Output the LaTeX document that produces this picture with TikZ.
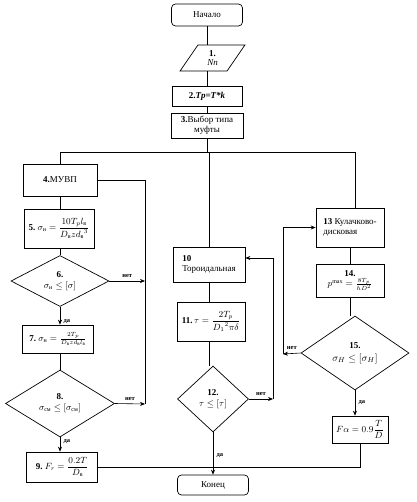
\documentclass[tikz,border=0pt]{standalone}
\usepackage{amsmath}
\usepackage{fontspec}
\setmainfont{Liberation Serif}
\usetikzlibrary{shapes.geometric,arrows.meta}

\begin{document}
\begin{tikzpicture}[x=1pt,y=-1pt,>={Stealth[length=5pt,width=4pt]},
  font=\fontsize{9}{10}\selectfont,
  blk/.style={draw,line width=.7pt,inner sep=1pt,align=center},
  term/.style={blk,rounded corners=4pt},
  dec/.style={draw,line width=.7pt,diamond,inner sep=0pt,align=center},
  io/.style={draw,line width=.7pt,trapezium,trapezium left angle=64,
    trapezium right angle=116,trapezium stretches=true,align=center},
  lnk/.style={line width=.6pt},
  lbl/.style={font=\fontsize{6.5}{7}\selectfont\bfseries}]
\useasboundingbox (0,0) rectangle (416,502);

% top column
\node[term,minimum width=71pt,minimum height=22pt] (start) at (207,15) {Начало};
\node[io,minimum width=65pt,minimum height=26pt] (in1) at (212.5,58) {\textbf{1.}\\[-1pt]\textit{Nn}};
\node[blk,minimum width=70pt,minimum height=20pt] (b2) at (207,96) {\textbf{2.\textit{Tp=T*k}}};
\node[blk,minimum width=72pt,minimum height=25pt] (b3) at (207,125.5) {\textbf{3.}Выбор типа\\муфты};

% left column
\node[blk,minimum width=74pt,minimum height=32pt] (b4) at (60,180) {\textbf{4.}МУВП};
\node[blk,minimum width=70pt,minimum height=39pt] (b5) at (59,228.5)
  {\textbf{5.}~$\sigma_{\text{и}}=\dfrac{10T_p l_{\text{в}}}{D_{\text{в}} z {d_{\text{в}}}^{3}}$};
\node[dec,aspect=1.9,minimum width=98pt,minimum height=51pt] (d6) at (60,281)
  {\textbf{6.}\\[1pt]$\sigma_{\text{и}}\le[\sigma]$};
\node[blk,minimum width=71pt,minimum height=28pt] (b7) at (58,339)
  {\textbf{7.}~$\sigma_{\text{н}}=\frac{2T_p}{D_{\text{в}} z d_{\text{в}} l_{\text{в}}}$};
\node[dec,aspect=1.6,minimum width=109pt,minimum height=67pt] (d8) at (60,403.5)
  {\textbf{8.}\\[1pt]$\sigma_{\text{см}}\le[\sigma_{\text{см}}]$};
\node[blk,minimum width=71pt,minimum height=30pt] (b9) at (62,467)
  {\textbf{9.}~$F_r=\dfrac{0.2T}{D_{\text{в}}}$};

% middle column
\node[blk,minimum width=72pt,minimum height=35pt,align=left] (b10) at (209,264.5)
  {\textbf{10}\\Тороидальная};
\node[blk,minimum width=68pt,minimum height=39pt] (b11) at (211,321.5)
  {\textbf{11.}\,$\tau=\dfrac{2T_p}{{D_1}^{2}\pi\delta}$};
\node[dec,aspect=1.1,minimum width=71pt,minimum height=66pt] (d12) at (213,399)
  {\textbf{12.}\\[1pt]$\tau\le[\tau]$};
\node[term,minimum width=71pt,minimum height=20pt] (end) at (213,485) {Конец};

% right column
\node[blk,minimum width=68pt,minimum height=39pt,align=left] (b13) at (350,227.5)
  {\textbf{13} Кулачково-\\дисковая};
\node[blk,minimum width=68pt,minimum height=33pt] (b14) at (350,280.5)
  {\textbf{14.}\\$p^{\max}=\frac{8T_p}{hD^2}$};
\node[dec,aspect=1.45,minimum width=108pt,minimum height=74pt] (d15) at (355,353)
  {\textbf{15.}\\[3pt]\fontsize{10}{12}\selectfont$\sigma_H\le[\sigma_H]$};
\node[blk,minimum width=56pt,minimum height=27pt] (bfa) at (360,429.5)
  {$F\alpha=0.9\dfrac{T}{D}$};

% branch points
\coordinate (jc) at (b3.south |- 0,152);
\coordinate (jl) at (b4.north |- jc);
\coordinate (jr) at (355,152);
\coordinate (lp) at (145,404);
\coordinate (mp) at (273,399);
\coordinate (rp) at (283,354);

% connectors
\draw[lnk] (start.south) -- (start.south |- in1.north);
\draw[lnk] (start.south |- in1.south) -- (b2.north);
\draw[lnk] (b2.south) -- (b3.north);
\draw[lnk] (b3.south) -- (jc);
\draw[lnk] (jl) -- (jr);
\draw[lnk] (jl) -- (b4.north);
\draw[lnk] (b10.north |- jc) -- (b10.north);
\draw[lnk] (jr) -- (jr |- b13.north);

\draw[lnk] (b4.south) -- (b4.south |- b5.north);
\draw[lnk] (b4.south |- b5.south) -- (d6.north);
\draw[lnk,->] (d6.south) -- (d6.south |- b7.north) node[lbl,pos=.8,right] {да};
\draw[lnk] (d6.south |- b7.south) -- (d8.north);
\draw[lnk,->] (d8.south) -- (d8.south |- b9.north) node[lbl,pos=.3,right] {да};
\draw[lnk] (b4.east) -| (lp);
\draw[lnk,->] (d6.east) -- (d6.east -| lp) node[lbl,pos=.5,above] {нет};
\draw[lnk,->] (d8.east) -- (lp) node[lbl,pos=.5,above] {нет};

\draw[lnk] (b10.south) -- (b10.south |- b11.north);
\draw[lnk] (b10.south |- b11.south) -- (b10.south |- d12.north);
\draw[lnk,->] (d12.east) -- (mp) node[lbl,pos=.5,above] {нет};
\draw[lnk,->] (mp) |- ([yshift=6.5pt]b10.east);
\draw[lnk,->] (d12.south) -- (d12.south |- end.north) node[lbl,pos=.55,right] {да};

\draw[lnk] (b13.south) -- (b14.north);
\draw[lnk] (b14.south) -- (b14.south |- d15.north);
\draw[lnk,->] (d15.west) -- (rp) node[lbl,pos=.5,above] {нет};
\draw[lnk,->] (rp) |- (b13.west);
\draw[lnk,->] (d15.south) -- (d15.south |- bfa.north) node[lbl,pos=.5,right] {да};
\draw[lnk] (bfa.south) |- (b9.east);
\end{tikzpicture}
\end{document}
